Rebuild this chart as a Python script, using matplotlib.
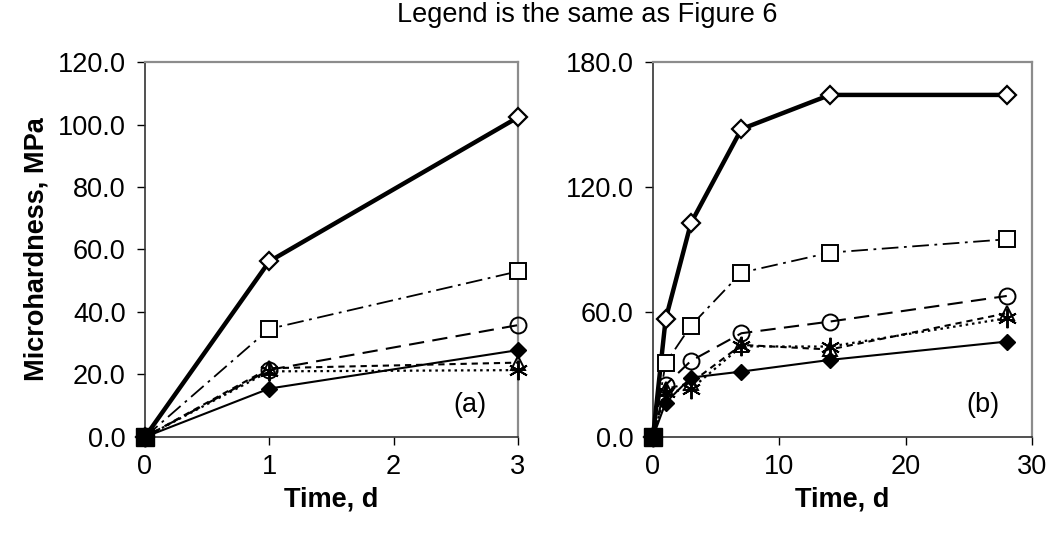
import matplotlib
matplotlib.use("Agg")
import matplotlib.pyplot as plt

plt.rcParams['font.family'] = ['Liberation Sans', 'DejaVu Sans']
plt.rcParams['lines.scale_dashes'] = False

# hardness data, MPa
days_a = [0, 1, 3]
days_b = [0, 1, 3, 7, 14, 28]

open_diamond_a = [0.0, 56.2, 102.3]
open_square_a = [0.0, 34.6, 53.0]
circle_a = [0.0, 21.5, 35.8]
filled_diamond_a = [0.0, 15.5, 27.8]
triangle_a = [0.0, 22.0, 23.8]
asterisk_a = [0.0, 21.0, 21.4]

open_diamond_b = [0.0, 56.5, 102.6, 147.8, 164.2, 164.2]
open_square_b = [0.0, 35.4, 53.4, 78.9, 88.5, 94.9]
circle_b = [0.0, 25.0, 36.5, 49.8, 55.4, 67.7]
filled_diamond_b = [0.0, 16.5, 28.5, 31.4, 37.0, 45.8]
triangle_b = [0.0, 23.0, 26.0, 44.2, 42.0, 59.4]
asterisk_b = [0.0, 21.5, 23.0, 43.5, 43.4, 57.0]

origin_day = [0]
origin_value = [0.0]

FS = 19.5

# line / marker style for each series
styles = [
    dict(ls='-', lw=3.2, marker='D', ms=9, mfc='white', mew=1.6),
    dict(ls=(0, (12, 4, 2, 4)), lw=1.3, marker='s', ms=12, mfc='white', mew=1.4),
    dict(ls=(0, (11, 6)), lw=1.5, marker='o', ms=11.5, mfc='none', mew=1.4),
    dict(ls='-', lw=1.5, marker='D', ms=8.5, mfc='black', mew=1.0),
    dict(ls=(0, (4.5, 3.5)), lw=1.5, marker='^', ms=10, mfc='none', mew=1.4),
    dict(ls=(0, (1.8, 2.8)), lw=1.6, marker=(6, 2, 0), ms=14, mfc='none', mew=1.4),
]


def draw_panel(ax, days, series, ymax, yticks, xmax, xticks, tag):
    for values, st in zip(series, styles):
        ax.plot(days, values, color='black', mec='black', clip_on=False,
                zorder=3, **st)
    ax.plot(origin_day, origin_value, ls='none', marker='s', ms=13,
            color='black', clip_on=False, zorder=4)
    ax.set_xlim(0, xmax)
    ax.set_ylim(0, ymax)
    ax.set_xticks(xticks)
    ax.set_yticks(yticks)
    ax.set_yticklabels([f"{v:.1f}" for v in yticks])
    ax.tick_params(direction='out', length=6, width=1, labelsize=FS,
                   colors='black')
    ax.tick_params(axis='y', pad=8)
    ax.tick_params(axis='x', pad=6)
    for side in ('top', 'right'):
        ax.spines[side].set_color('#8c8c8c')
        ax.spines[side].set_linewidth(1.6)
    for side in ('left', 'bottom'):
        ax.spines[side].set_color('#333333')
        ax.spines[side].set_linewidth(1.2)
    ax.set_xlabel('Time, d', fontsize=FS, fontweight='bold', labelpad=5)
    ax.text(0.87, 0.085, tag, transform=ax.transAxes, fontsize=FS,
            ha='center', va='center')


fig = plt.figure(figsize=(10.52, 5.35), dpi=100)
ax_a = fig.add_axes([0.1378, 0.1832, 0.3546, 0.7009])
ax_b = fig.add_axes([0.6207, 0.1832, 0.3603, 0.7009])

draw_panel(ax_a, days_a,
           [open_diamond_a, open_square_a, circle_a, filled_diamond_a,
            triangle_a, asterisk_a],
           120, [0, 20, 40, 60, 80, 100, 120], 3, [0, 1, 2, 3], '(a)')
draw_panel(ax_b, days_b,
           [open_diamond_b, open_square_b, circle_b, filled_diamond_b,
            triangle_b, asterisk_b],
           180, [0, 60, 120, 180], 30, [0, 10, 20, 30], '(b)')

ax_a.set_ylabel('Microhardness, MPa', fontsize=FS, fontweight='bold',
                labelpad=6)
fig.text(0.558, 0.972, 'Legend is the same as Figure 6', fontsize=FS,
         ha='center', va='center')

fig.savefig('out.png', dpi=100)
